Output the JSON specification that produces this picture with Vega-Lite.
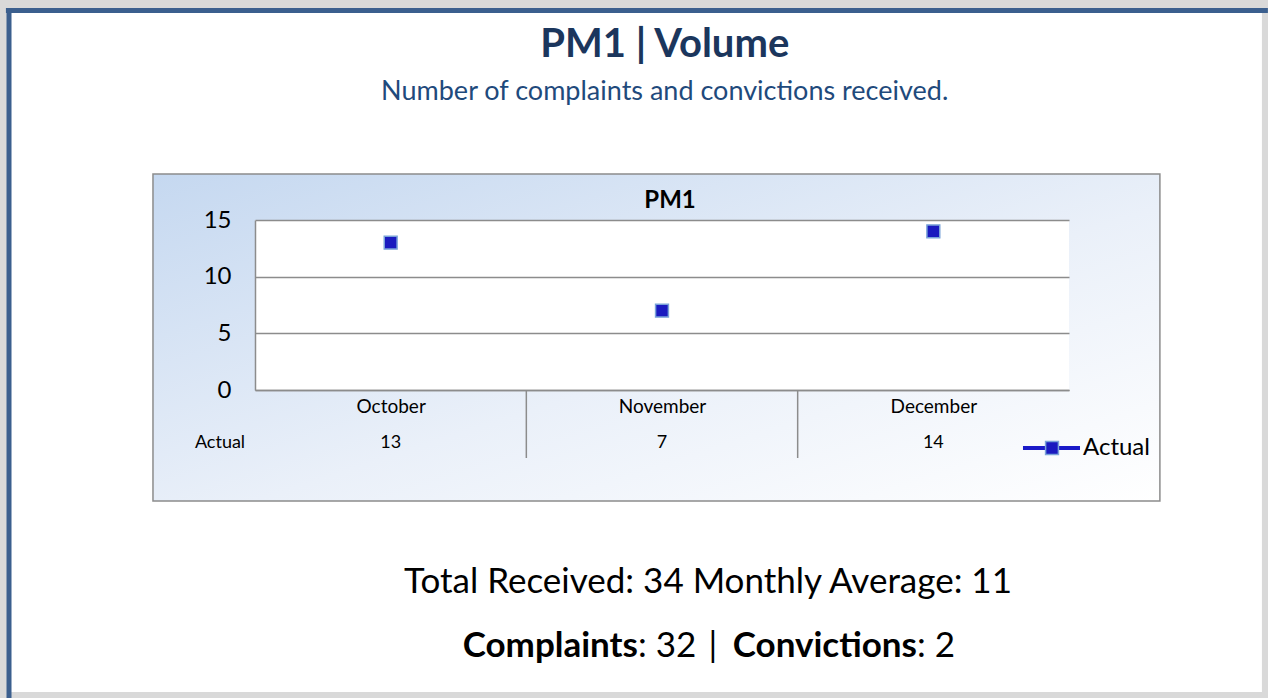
{
  "$schema": "https://vega.github.io/schema/vega-lite/v6.json",
  "width": 814,
  "height": 170,
  "autosize": {"type": "none"},
  "padding": {"left": 255, "top": 220, "right": 199, "bottom": 308},
  "background": "#d9d9d9",
  "config": {"view": {"stroke": null}, "font": "Lato", "text": {"font": "Lato"}},
  "data": {"values": [{}]},
  "datasets": {
    "actual": [
      {"month": "October", "idx": 0, "value": 13},
      {"month": "November", "idx": 1, "value": 7},
      {"month": "December", "idx": 2, "value": 14}
    ]
  },
  "layer": [
    {
      "mark": {"type": "rect", "fill": "#ffffff"},
      "encoding": {
        "x": {"datum": -1.403, "type": "quantitative", "title": null,
              "scale": {"domain": [-0.5, 2.5], "nice": false, "zero": false},
              "axis": {"values": [0, 1, 2], "labelExpr": "['October','November','December'][datum.value]", "labelFontSize": 19, "labelColor": "#000000", "labelPadding": 7, "domainColor": "#8c8c8c", "domainWidth": 1.5, "ticks": false, "grid": false, "zindex": 1, "title": null, "labelFont": "Lato"}},
        "x2": {"datum": 3.211},
        "y": {"datum": 33.35, "type": "quantitative", "title": null,
              "scale": {"domain": [0, 15], "nice": false, "zero": false},
              "axis": {"values": [0, 5, 10, 15], "grid": true, "gridColor": "#8c8c8c", "gridWidth": 1.5, "domainColor": "#8c8c8c", "domainWidth": 1.5, "ticks": false, "labelFontSize": 24, "labelPadding": 24, "labelColor": "#000000", "zindex": 1, "title": null, "labelFont": "Lato"}},
        "y2": {"datum": -26.65}
      }
    },
    {
      "mark": {"type": "rule", "stroke": "#3b5f8e", "strokeWidth": 5},
      "encoding": {
        "x": {"datum": -1.418, "type": "quantitative", "title": null},
        "x2": {"datum": 3.233},
        "y": {"datum": 33.49, "type": "quantitative", "title": null}
      }
    },
    {
      "mark": {"type": "rule", "stroke": "#3b5f8e", "strokeWidth": 5},
      "encoding": {
        "x": {"datum": -1.4066, "type": "quantitative", "title": null},
        "y": {"datum": 33.71, "type": "quantitative", "title": null},
        "y2": {"datum": -27.18}
      }
    },
    {
      "mark": {"type": "rect", "stroke": "#8c8c8c", "strokeWidth": 1.5,
               "fill": {"gradient": "linear", "x1": 0, "y1": 0, "x2": 1, "y2": 1,
                        "stops": [{"offset": 0, "color": "#c5d8f0"}, {"offset": 0.55, "color": "#eaf0f9"}, {"offset": 1, "color": "#ffffff"}]}},
      "encoding": {
        "x": {"datum": -0.876, "type": "quantitative", "title": null},
        "x2": {"datum": 2.835},
        "y": {"datum": 19.06, "type": "quantitative", "title": null},
        "y2": {"datum": -9.79}
      }
    },
    {
      "mark": {"type": "rect", "fill": "#ffffff"},
      "encoding": {
        "x": {"datum": -0.5, "type": "quantitative", "title": null},
        "x2": {"datum": 2.5},
        "y": {"datum": 0, "type": "quantitative", "title": null},
        "y2": {"datum": 15}
      }
    },
    {
      "mark": {"type": "rule", "stroke": "#8c8c8c", "strokeWidth": 1.5},
      "encoding": {
        "x": {"datum": 0.5, "type": "quantitative", "title": null},
        "y": {"datum": 0, "type": "quantitative", "title": null},
        "y2": {"datum": -6.0}
      }
    },
    {
      "mark": {"type": "rule", "stroke": "#8c8c8c", "strokeWidth": 1.5},
      "encoding": {
        "x": {"datum": 1.5, "type": "quantitative", "title": null},
        "y": {"datum": 0, "type": "quantitative", "title": null},
        "y2": {"datum": -6.0}
      }
    },
    {
      "data": {"name": "actual"},
      "mark": {"type": "point", "shape": "square", "filled": true, "fill": "#1a1abf", "stroke": "#7aa3d8", "strokeWidth": 1.5, "size": 165, "opacity": 1},
      "encoding": {
        "x": {"field": "idx", "type": "quantitative", "title": null},
        "y": {"field": "value", "type": "quantitative", "title": null}
      }
    },
    {
      "data": {"name": "actual"},
      "mark": {"type": "text", "fontSize": 18, "color": "#000000", "baseline": "middle", "align": "center"},
      "encoding": {
        "x": {"field": "idx", "type": "quantitative", "title": null},
        "y": {"datum": -4.65, "type": "quantitative", "title": null},
        "text": {"field": "value", "type": "quantitative"}
      }
    },
    {
      "mark": {"type": "text", "text": "Actual", "fontSize": 18, "color": "#000000", "baseline": "middle", "align": "center"},
      "encoding": {
        "x": {"datum": -0.629, "type": "quantitative", "title": null},
        "y": {"datum": -4.65, "type": "quantitative", "title": null}
      }
    },
    {
      "mark": {"type": "text", "text": "PM1", "fontSize": 24, "fontWeight": "bold", "color": "#000000", "baseline": "alphabetic", "align": "center"},
      "encoding": {
        "x": {"datum": 1.0295, "type": "quantitative", "title": null},
        "y": {"datum": 16.06, "type": "quantitative", "title": null}
      }
    },
    {
      "mark": {"type": "rule", "stroke": "#1a1ac8", "strokeWidth": 4},
      "encoding": {
        "x": {"datum": 2.3304, "type": "quantitative", "title": null},
        "x2": {"datum": 2.5405},
        "y": {"datum": -5.118, "type": "quantitative", "title": null}
      }
    },
    {
      "mark": {"type": "point", "shape": "square", "filled": true, "fill": "#1a1abf", "stroke": "#7aa3d8", "strokeWidth": 1.5, "size": 165, "opacity": 1},
      "encoding": {
        "x": {"datum": 2.4374, "type": "quantitative", "title": null},
        "y": {"datum": -5.118, "type": "quantitative", "title": null}
      }
    },
    {
      "mark": {"type": "text", "text": "Actual", "fontSize": 24, "color": "#000000", "baseline": "middle", "align": "left"},
      "encoding": {
        "x": {"datum": 2.5516, "type": "quantitative", "title": null},
        "y": {"datum": -5.118, "type": "quantitative", "title": null}
      }
    },
    {
      "mark": {"type": "text", "text": "PM1 | Volume", "fontSize": 40, "fontWeight": "bold", "color": "#1b365d", "baseline": "alphabetic", "align": "center"},
      "encoding": {
        "x": {"datum": 1.01, "type": "quantitative", "title": null},
        "y": {"datum": 29.38, "type": "quantitative", "title": null}
      }
    },
    {
      "mark": {"type": "text", "text": "Number of complaints and convictions received.", "fontSize": 27, "color": "#1f4a7c", "baseline": "alphabetic", "align": "center"},
      "encoding": {
        "x": {"datum": 1.01, "type": "quantitative", "title": null},
        "y": {"datum": 25.59, "type": "quantitative", "title": null}
      }
    },
    {
      "mark": {"type": "text", "text": "Total Received: 34 Monthly Average: 11", "fontSize": 35, "color": "#000000", "baseline": "alphabetic", "align": "center"},
      "encoding": {
        "x": {"datum": 1.1696, "type": "quantitative", "title": null},
        "y": {"datum": -17.9, "type": "quantitative", "title": null}
      }
    },
    {
      "mark": {"type": "text", "text": "Complaints", "fontSize": 35, "fontWeight": "bold", "color": "#000000", "baseline": "alphabetic", "align": "right"},
      "encoding": {
        "x": {"datum": 0.9116, "type": "quantitative", "title": null},
        "y": {"datum": -23.56, "type": "quantitative", "title": null}
      }
    },
    {
      "mark": {"type": "text", "text": ": 32", "fontSize": 35, "color": "#000000", "baseline": "alphabetic", "align": "left"},
      "encoding": {
        "x": {"datum": 0.9116, "type": "quantitative", "title": null},
        "y": {"datum": -23.56, "type": "quantitative", "title": null}
      }
    },
    {
      "mark": {"type": "text", "text": "|", "fontSize": 35, "color": "#000000", "baseline": "alphabetic", "align": "center"},
      "encoding": {
        "x": {"datum": 1.188, "type": "quantitative", "title": null},
        "y": {"datum": -23.56, "type": "quantitative", "title": null}
      }
    },
    {
      "mark": {"type": "text", "text": "Convictions", "fontSize": 35, "fontWeight": "bold", "color": "#000000", "baseline": "alphabetic", "align": "right"},
      "encoding": {
        "x": {"datum": 1.9398, "type": "quantitative", "title": null},
        "y": {"datum": -23.56, "type": "quantitative", "title": null}
      }
    },
    {
      "mark": {"type": "text", "text": ": 2", "fontSize": 35, "color": "#000000", "baseline": "alphabetic", "align": "left"},
      "encoding": {
        "x": {"datum": 1.9398, "type": "quantitative", "title": null},
        "y": {"datum": -23.56, "type": "quantitative", "title": null}
      }
    }
  ]
}
